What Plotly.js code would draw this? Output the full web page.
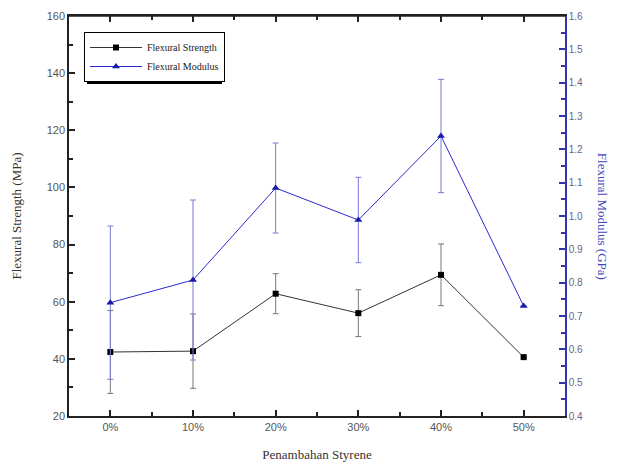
<!DOCTYPE html>
<html>
<head>
<meta charset="utf-8">
<script src="https://cdn.plot.ly/plotly-3.0.1.min.js"></script>
<style>
  html, body { margin: 0; padding: 0; background: #fff; }
  #chart { width: 617px; height: 468px; }
</style>
</head>
<body>
<div id="chart"></div>
<script>
// Styrene addition levels
const categories = ['0%', '10%', '20%', '30%', '40%', '50%'];

// Flexural strength (MPa) with standard deviation
const strength = [42.4, 42.7, 62.8, 56.0, 69.4, 40.6];
const strengthErr = [14.5, 13.0, 7.0, 8.2, 10.8, 0];

// Flexural modulus (GPa) with standard deviation
const modulus = [0.74, 0.808, 1.084, 0.988, 1.24, 0.73];
const modulusErr = [0.23, 0.24, 0.135, 0.128, 0.17, 0];

const xIdx = categories.map((_, i) => i);

const serif = 'Liberation Serif, Times New Roman, serif';
const sans = 'Liberation Sans, Arial, sans-serif';
const clear = 'rgba(0,0,0,0)';

const traces = [
  {
    name: 'Flexural Strength',
    x: xIdx, y: strength,
    type: 'scatter', mode: 'lines+markers',
    line: { color: '#333333', width: 1 },
    marker: { symbol: 'square', size: 6, color: '#000000' },
    error_y: { type: 'data', array: strengthErr, visible: true, color: '#777777', thickness: 1, width: 3 },
    xaxis: 'x', yaxis: 'y'
  },
  {
    name: 'Flexural Modulus',
    x: xIdx, y: modulus,
    type: 'scatter', mode: 'lines+markers',
    line: { color: '#2a2ad0', width: 1 },
    marker: { symbol: 'triangle-up', size: 7, color: '#1a1aa8' },
    error_y: { type: 'data', array: modulusErr, visible: true, color: '#7a7ad8', thickness: 1, width: 3 },
    xaxis: 'x', yaxis: 'y2'
  }
];

// pixel helpers for the legend's drop shadow (plot area: x 69..565, y 16..416)
const px = v => (v - 69) / 496;
const py = v => 1 - (v - 16) / 400;

const layout = {
  width: 617, height: 468,
  margin: { l: 69, r: 52, t: 16, b: 52 },
  showlegend: true,
  legend: {
    x: px(84), y: py(32), xanchor: 'left', yanchor: 'top',
    bgcolor: '#ffffff', bordercolor: '#000000', borderwidth: 1,
    font: { family: serif, size: 10, color: '#222' },
    itemwidth: 52,
    tracegroupgap: 0
  },
  xaxis: {
    range: [-0.5, 5.5],
    tickmode: 'array', tickvals: xIdx, ticktext: categories,
    ticks: 'inside', ticklen: 6, tickwidth: 1.5, tickcolor: '#222',
    minor: { tickmode: 'array', tickvals: [0.5, 1.5, 2.5, 3.5, 4.5], ticks: 'inside', ticklen: 4, tickwidth: 1.5, tickcolor: '#222' },
    showline: true, linecolor: '#222', linewidth: 1.5, mirror: 'ticks',
    gridcolor: clear, zerolinecolor: clear,
    tickfont: { family: sans, size: 11, color: '#555' },
    title: { text: 'Penambahan Styrene', font: { family: serif, size: 13, color: '#333' }, standoff: 18 }
  },
  yaxis: {
    range: [20, 160], dtick: 20,
    ticks: 'inside', ticklen: 6, tickwidth: 1.5, tickcolor: '#222',
    minor: { dtick: 10, ticks: 'inside', ticklen: 4, tickwidth: 1.5, tickcolor: '#222' },
    showline: true, linecolor: '#222', linewidth: 1.5,
    gridcolor: clear, zerolinecolor: clear,
    tickfont: { family: sans, size: 11, color: '#555' },
    title: { text: 'Flexural Strength (MPa)', font: { family: serif, size: 13, color: '#333' }, standoff: 22 }
  },
  yaxis2: {
    overlaying: 'y', side: 'right',
    range: [0.4, 1.6], dtick: 0.1,
    tickformat: '.1f',
    ticks: 'inside', ticklen: 6, tickwidth: 1.5, tickcolor: '#3333aa',
    minor: { dtick: 0.05, ticks: 'inside', ticklen: 4, tickwidth: 1.5, tickcolor: '#3333aa' },
    showline: true, linecolor: '#3333aa', linewidth: 1.5,
    gridcolor: clear, zerolinecolor: clear,
    tickfont: { family: sans, size: 10, color: '#666688' }
  },
  shapes: [
    // top frame edge of the plot area
    {
      type: 'line', xref: 'paper', yref: 'paper', layer: 'above',
      x0: 0, x1: 1, y0: 1, y1: 1,
      line: { color: '#222222', width: 1.5 }
    },
    // drop shadow behind the legend box
    {
      type: 'rect', xref: 'paper', yref: 'paper', layer: 'above',
      x0: px(87), x1: px(222), y0: py(84), y1: py(35),
      fillcolor: '#000000', line: { width: 0 }
    }
  ],
  annotations: [
    {
      text: 'Flexural Modulus (GPa)',
      xref: 'paper', yref: 'paper', x: 1.077, y: 0.5,
      xanchor: 'center', yanchor: 'middle',
      textangle: 90, showarrow: false,
      font: { family: serif, size: 13, color: '#4444bb' }
    }
  ]
};

Plotly.newPlot('chart', traces, layout, { displayModeBar: false });
</script>
</body>
</html>
